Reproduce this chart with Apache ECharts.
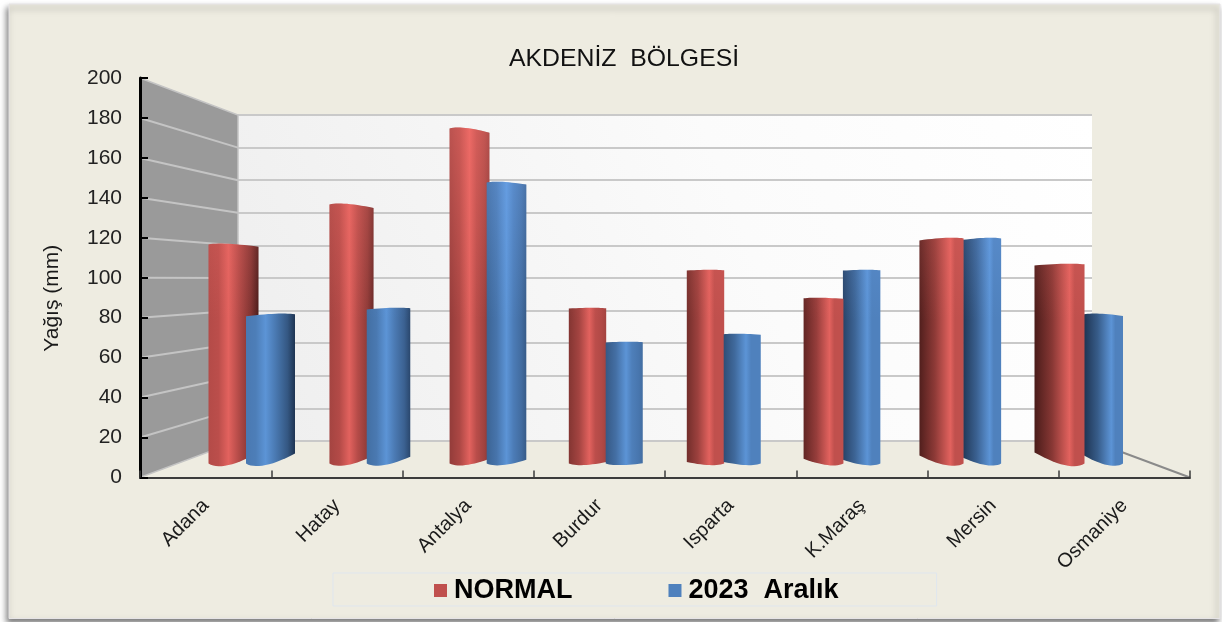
<!DOCTYPE html>
<html>
<head>
<meta charset="utf-8">
<script src="https://cdn.jsdelivr.net/npm/echarts@6/dist/echarts.min.js"></script>
<style>
  html, body { margin: 0; padding: 0; background: #fff; }
  #chart { width: 1222px; height: 622px; }
</style>
</head>
<body>
<div id="chart"></div>
<script>
const categories = ['Adana', 'Hatay', 'Antalya', 'Burdur', 'Isparta', 'K.Maraş', 'Mersin', 'Osmaniye'];
const normalValues = [117, 137, 175, 85, 104, 90, 120, 107];
const aralikValues = [82, 85, 148, 68, 72, 104, 120, 82];
const wallTicks = [20, 40, 60, 80, 100, 120, 140, 160, 180];
const seriesNames = ['NORMAL', '2023  Aralık'];

const FONT = '"Liberation Sans", Arial, sans-serif';
const BASE_VALUE = 6.2; // bars stand on the floor, a bit above the front axis
const BACK_LEFT = 238, BACK_RIGHT = 1092, BACK_TOP = 115, BACK_BOTTOM = 441;

const RED = { dark: [74, 28, 26], mid: [192, 80, 77], light: [226, 98, 94], glow: 'rgba(255,120,115,' };
const BLUE = { dark: [30, 52, 82], mid: [79, 129, 189], light: [92, 148, 214], glow: 'rgba(125,180,255,' };

function mix(a, b, k) {
  k = Math.max(0, Math.min(1, k));
  return 'rgb(' + a.map((v, n) => Math.round(v + (b[n] - v) * k)).join(',') + ')';
}

function quad(a, c, b, k) {
  return (1 - k) * (1 - k) * a + 2 * (1 - k) * k * c + k * k * b;
}

function cylinderPoints(x0, x1, yTop, yBase, side, tiltScale) {
  const w = x1 - x0;
  const dT = (yTop - 280) * 0.065 * side * tiltScale;
  const dB = (yBase - 280) * 0.06 * side * tiltScale;
  const tl = yTop + 0.6 + Math.max(0, -dT), tr = yTop + 0.6 + Math.max(0, dT);
  const tc = 2 * yTop - (tl + tr) / 2;
  const tcx = x0 + w * (0.5 - Math.sign(dT) * 0.2);
  const bl = yBase - 1.5 - Math.max(0, dB), br = yBase - 1.5 - Math.max(0, -dB);
  const bc = 2 * yBase - (bl + br) / 2;
  const bcx = x0 + w * (0.5 + Math.sign(dB) * 0.2);
  const pts = [];
  for (let k = 0; k <= 14; k++) pts.push([quad(x0, tcx, x1, k / 14), quad(tl, tc, tr, k / 14)]);
  for (let k = 14; k >= 0; k--) pts.push([quad(x0, bcx, x1, k / 14), quad(bl, bc, br, k / 14)]);
  return pts;
}

function bodyFill(i, pal) {
  const dL = 0.1 + 0.14 * i;
  const dR = Math.max(0, 1 - 0.25 * i);
  const p = Math.min(0.7, 0.4 + 0.05 * i);
  return new echarts.graphic.LinearGradient(0, 0, 1, 0, [
    { offset: 0, color: mix(pal.mid, pal.dark, dL) },
    { offset: p * 0.5, color: mix(pal.mid, pal.dark, dL * 0.45) },
    { offset: p, color: mix(pal.light, pal.light, 0) },
    { offset: p + (1 - p) * 0.35, color: mix(pal.mid, pal.dark, dR * 0.12) },
    { offset: p + (1 - p) * 0.75, color: mix(pal.mid, pal.dark, dR * 0.55) },
    { offset: 1, color: mix(pal.mid, pal.dark, dR) }
  ]);
}

function renderCylinder(seriesIdx) {
  return function (params, api) {
    const i = api.value(0);
    const top = api.coord([i, api.value(1)]);
    const base = api.coord([i, BASE_VALUE]);
    const t = (i - 3.5) / 3.5;
    const grow = Math.pow(Math.abs(t), 1.8);
    const redC = top[0] - 18.5;
    const redW = 37 + 13 * grow;
    let x0 = redC - redW / 2, x1 = redC + redW / 2;
    let tiltScale = 1;
    if (seriesIdx === 1) {
      if (i < 3) {
        const w = 37 + 12 * grow;
        x0 = top[0] + 18.5 - w / 2;
        x1 = x0 + w;
      } else {
        x0 = x1 - 0.5;
        x1 = x0 + 37 + 2 * grow;
        tiltScale = 0.65;
      }
    }
    const side = ((x0 + x1) / 2 - 645) / 410;
    const points = cylinderPoints(x0, x1, top[1], base[1], side, tiltScale);
    const pal = seriesIdx === 0 ? RED : BLUE;
    // red sits behind blue on the left, in front of it on the right
    const z2 = seriesIdx === 0 ? (i > 4 ? 20 : 10) : 15;
    return {
      type: 'group',
      children: [
        { type: 'polygon', z2: z2, shape: { points: points }, style: { fill: bodyFill(i, pal) } },
        {
          type: 'polygon', z2: z2 + 1, shape: { points: points },
          style: {
            fill: new echarts.graphic.LinearGradient(0, 125, 0, 320, [
              { offset: 0, color: pal.glow + '0.38)' },
              { offset: 1, color: pal.glow + '0)' }
            ], true)
          }
        }
      ]
    };
  };
}

// left wall of the box and its slanted grid lines, floor edge on the right
function renderWall(params, api) {
  const v = api.value(0);
  const front = api.coord([0, v]);
  const left = api.coord([0, 0])[0] - (api.size([1, 0])[0] / 2);
  const backY = BACK_BOTTOM + (BACK_TOP - BACK_BOTTOM) * v / 200;
  return {
    type: 'line',
    z2: 2,
    shape: { x1: left, y1: front[1], x2: BACK_LEFT, y2: backY },
    style: { stroke: '#c4c4c4', lineWidth: 2 }
  };
}

function renderWallBody(params, api) {
  const left = api.coord([0, 0])[0] - (api.size([1, 0])[0] / 2);
  const y0 = api.coord([0, 0])[1];
  const y200 = api.coord([0, 200])[1];
  const floorEnd = api.coord([7, 0])[0] + api.size([1, 0])[0] / 2;
  return {
    type: 'group',
    children: [
      {
        type: 'polygon', z2: 1,
        shape: { points: [[left, y200], [BACK_LEFT, BACK_TOP], [BACK_LEFT, BACK_BOTTOM], [left, y0]] },
        style: { fill: '#9a9a9a', stroke: '#c4c4c4', lineWidth: 1.5 }
      },
      {
        type: 'line', z2: 1,
        shape: { x1: BACK_RIGHT, y1: BACK_BOTTOM, x2: floorEnd, y2: y0 },
        style: { stroke: '#8a8a8a', lineWidth: 2 }
      }
    ]
  };
}

const hiddenCat = { type: 'category', data: categories, show: false };
const hiddenVal = { type: 'value', min: 0, max: 200, interval: 20, show: false };

const option = {
  animation: false,
  backgroundColor: 'transparent',
  title: {
    text: 'AKDENİZ  BÖLGESİ',
    left: 509,
    top: 47,
    padding: 0,
    textStyle: { fontFamily: FONT, fontSize: 24.8, fontWeight: 'normal', color: '#111' }
  },
  legend: {
    left: 333,
    top: 573,
    padding: [4, 98, 2, 101],
    itemWidth: 13,
    itemHeight: 13,
    itemGap: 96,
    icon: 'rect',
    borderColor: '#dfe6ee',
    borderWidth: 1,
    data: seriesNames,
    textStyle: { fontFamily: FONT, fontSize: 27, fontWeight: 'bold', color: '#000', padding: [0, 0, 0, 2] }
  },
  grid: [
    { left: 140, width: 1050, top: 78, height: 399.5 },
    { left: 193, width: 944, top: 78, height: 399.5 },
    {
      left: BACK_LEFT, width: BACK_RIGHT - BACK_LEFT, top: BACK_TOP, height: BACK_BOTTOM - BACK_TOP,
      show: true, borderWidth: 0,
      backgroundColor: new echarts.graphic.LinearGradient(0, 1, 1, 0, [
        { offset: 0, color: '#eeeeee' },
        { offset: 0.6, color: '#fbfbfb' },
        { offset: 1, color: '#ffffff' }
      ])
    }
  ],
  xAxis: [
    {
      type: 'category',
      gridIndex: 0,
      z: 10,
      data: categories,
      axisLine: { lineStyle: { color: '#3c3c3c', width: 2 } },
      axisTick: { show: true, inside: true, length: 7, lineStyle: { color: '#3c3c3c', width: 1.5 } },
      axisLabel: {
        interval: 0, rotate: 45, margin: 25,
        fontFamily: FONT, fontSize: 20, color: '#1a1a1a'
      }
    },
    Object.assign({ gridIndex: 1 }, hiddenCat),
    Object.assign({ gridIndex: 2 }, hiddenCat)
  ],
  yAxis: [
    {
      type: 'value',
      gridIndex: 0,
      z: 10,
      min: 0,
      max: 200,
      interval: 20,
      name: 'Yağış (mm)',
      nameLocation: 'middle',
      nameGap: 77,
      nameRotate: 90,
      nameTextStyle: { fontFamily: FONT, fontSize: 21, color: '#1a1a1a', padding: [0, 41, 0, 0] },
      axisLine: { show: true, lineStyle: { color: '#000', width: 3 } },
      axisTick: { show: true, inside: true, length: 8, lineStyle: { color: '#000', width: 2 } },
      axisLabel: { margin: 18, fontFamily: FONT, fontSize: 21, color: '#222' },
      splitLine: { show: false }
    },
    Object.assign({ gridIndex: 1 }, hiddenVal),
    {
      type: 'value',
      gridIndex: 2,
      min: 0,
      max: 200,
      interval: 20,
      axisLine: { show: false },
      axisTick: { show: false },
      axisLabel: { show: false },
      splitLine: { show: true, lineStyle: { color: '#c9c9c9', width: 2 } }
    }
  ],
  graphic: [
    {
      type: 'rect',
      z: -10,
      silent: true,
      shape: { x: 9, y: 4, width: 1211, height: 614.5 },
      style: {
        fill: '#EEECE1',
        stroke: '#e6e4e6',
        lineWidth: 1,
        shadowColor: 'rgba(0,0,0,0.5)',
        shadowBlur: 6,
        shadowOffsetX: -2,
        shadowOffsetY: 4
      }
    }
  ],
  series: [
    {
      type: 'custom',
      name: 'wallBody',
      xAxisIndex: 0,
      yAxisIndex: 0,
      z: 3,
      silent: true,
      clip: false,
      data: [0],
      renderItem: renderWallBody
    },
    {
      type: 'custom',
      name: 'wallLines',
      xAxisIndex: 0,
      yAxisIndex: 0,
      z: 3,
      silent: true,
      clip: false,
      data: wallTicks.map(v => [v]),
      renderItem: renderWall
    },
    {
      type: 'custom',
      name: seriesNames[0],
      xAxisIndex: 1,
      yAxisIndex: 1,
      z: 4,
      clip: false,
      itemStyle: { color: '#C0504D' },
      data: normalValues.map((v, i) => [i, v]),
      renderItem: renderCylinder(0)
    },
    {
      type: 'custom',
      name: seriesNames[1],
      xAxisIndex: 1,
      yAxisIndex: 1,
      z: 4,
      clip: false,
      itemStyle: { color: '#4F81BD' },
      data: aralikValues.map((v, i) => [i, v]),
      renderItem: renderCylinder(1)
    }
  ]
};

const chart = echarts.init(document.getElementById('chart'), null, { renderer: 'canvas' });
chart.setOption(option);
</script>
</body>
</html>
